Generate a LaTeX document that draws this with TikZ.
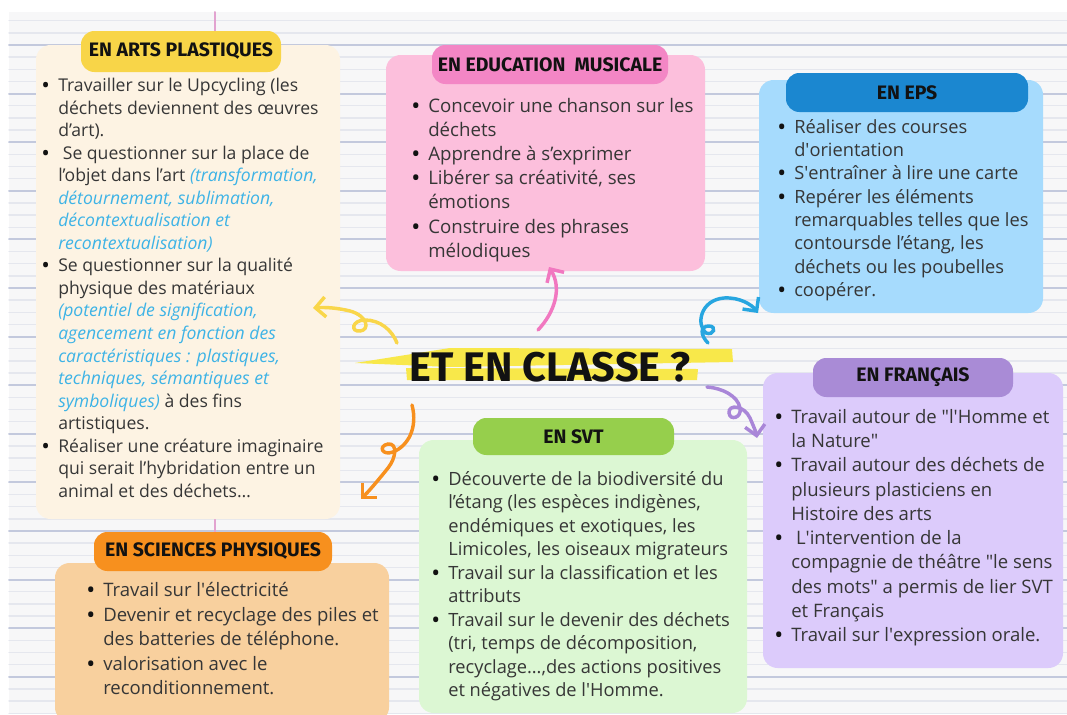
\documentclass[tikz,border=0pt]{standalone}
\usepackage{fontspec}
\setmainfont{Open Sans}
\newfontfamily\titlefont{Fira Sans}
\usetikzlibrary{arrows.meta, positioning}
\usepackage{xcolor}
\definecolor{paper}{HTML}{F7F7F8}
\definecolor{faint}{HTML}{E5E7EE}
\definecolor{rule}{HTML}{C3C9DD}
\definecolor{margin}{HTML}{E2A3D0}
\definecolor{ink}{HTML}{363636}
\definecolor{titleink}{HTML}{121212}
\definecolor{noteblue}{HTML}{3DB3E6}
\definecolor{hl}{HTML}{F8E84A}
\definecolor{artsfill}{HTML}{FDF3E3}
\definecolor{artstab}{HTML}{F8D548}
\definecolor{musfill}{HTML}{FCBFDC}
\definecolor{mustab}{HTML}{F386C5}
\definecolor{epsfill}{HTML}{A6DBFD}
\definecolor{epstab}{HTML}{1B87D0}
\definecolor{frfill}{HTML}{DCCBFB}
\definecolor{frtab}{HTML}{A98BD6}
\definecolor{svtfill}{HTML}{DCF7D3}
\definecolor{svttab}{HTML}{96CF4C}
\definecolor{phyfill}{HTML}{F8D09E}
\definecolor{phytab}{HTML}{F7901E}
\definecolor{ylw}{HTML}{F9D64A}
\definecolor{pnk}{HTML}{F178C0}
\definecolor{blu}{HTML}{27A6E0}
\definecolor{prp}{HTML}{A986D8}
\definecolor{org}{HTML}{F7901E}

\newcommand\bl{\makebox[12pt][l]{\textcolor{titleink}{\bfseries\textbullet}}}
\newcommand\ind{\hspace*{12pt}}
\newcommand\blueit[1]{{\itshape\color{noteblue}#1}}
\newcommand\qq{\textquotedbl}

\begin{document}
\begin{tikzpicture}[
      x = 0.75pt, y = -0.75pt, % one unit = one pixel, y downwards
      > = {Straight Barb[length=7.5pt, width=15pt]}, % arrow head style
      line cap = round,
    ]

    \tikzstyle{box}=[
      rounded corners = 11pt,
      inner sep = 0pt,
      draw = none
    ]
    \tikzstyle{tab}=[
      rounded corners = 10pt,
      inner sep = 0pt,
      text = titleink,
      font = \titlefont\bfseries\fontsize{14.6}{16}\selectfont
    ]
    \tikzstyle{list}=[
      align = left,
      inner sep = 0pt,
      anchor = north west,
      text = ink
    ]
    \tikzstyle{swirl}=[->, line width = 2.6pt]

    \useasboundingbox (0,0) rectangle (1067,714);
    \clip (0,0) rectangle (1067,714);

    % lined paper
    \fill[paper] (9,12) rectangle (1067,714);
    \foreach \k in {0,...,57}
      \draw[faint, line width = 1pt] (9,{20.7+12.15*\k}) -- (1067,{20.7+12.15*\k});
    \foreach \k in {0,...,13}
      \draw[rule, line width = 1.4pt] (9,{45+48.6*\k}) -- (1067,{45+48.6*\k});
    \draw[margin, line width = 1.5pt] (215,12) -- (215,714);

    % boxes
    \node[box, fill = artsfill, minimum width = 228pt, minimum height = 355.5pt] (arts) [at={(188, 282)}] {};
    \node[box, fill = musfill, minimum width = 239.25pt, minimum height = 162pt] (mus) [at={(545.5, 163)}] {};
    \node[box, fill = epsfill, minimum width = 213pt, minimum height = 174.75pt] (eps) [at={(901, 196.5)}] {};
    \node[box, fill = frfill, minimum width = 225pt, minimum height = 221.25pt] (fr) [at={(913, 520.5)}] {};
    \node[box, fill = svtfill, minimum width = 246pt, minimum height = 204.75pt] (svt) [at={(583, 576.5)}] {};
    \node[box, fill = phyfill, minimum width = 250.5pt, minimum height = 119.25pt] (phy) [at={(222, 642.5)}] {};

    % title tabs
    \node[tab, fill = artstab, minimum width = 150pt, minimum height = 30.75pt] (artsT) [at={(181, 51.5)}] {EN ARTS PLASTIQUES};
    \node[tab, fill = mustab, minimum width = 177pt, minimum height = 29.25pt] (musT) [at={(550, 64.5)}] {EN EDUCATION\ \ MUSICALE};
    \node[tab, fill = epstab, minimum width = 181.5pt, minimum height = 29.25pt] (epsT) [at={(907, 92.5)}] {EN EPS};
    \node[tab, fill = frtab, minimum width = 150pt, minimum height = 29.25pt] (frT) [at={(913, 377.5)}] {EN FRANÇAIS};
    \node[tab, fill = svttab, minimum width = 150.75pt, minimum height = 27.75pt] (svtT) [at={(573.5, 436.5)}] {EN SVT};
    \node[tab, fill = phytab, minimum width = 178.5pt, minimum height = 29.25pt] (phyT) [at={(213, 551.5)}] {EN SCIENCES PHYSIQUES};

    % lists
    \node[list, font = \fontsize{13.2}{16.9}\selectfont] (artsL) [at={(42, 78)}] {%
      \bl Travailler sur le Upcycling (les\\
      \ind déchets deviennent des œuvres\\
      \ind d’art).\\
      \bl\ Se questionner sur la place de\\
      \ind l’objet dans l’art \blueit{(transformation,}\\
      \ind\blueit{détournement, sublimation,}\\
      \ind\blueit{décontextualisation et}\\
      \ind\blueit{recontextualisation)}\\
      \bl Se questionner sur la qualité\\
      \ind physique des matériaux\\
      \ind\blueit{(potentiel de signification,}\\
      \ind\blueit{agencement en fonction des}\\
      \ind\blueit{caractéristiques : plastiques,}\\
      \ind\blueit{techniques, sémantiques et}\\
      \ind\blueit{symboliques)} à des fins\\
      \ind artistiques.\\
      \bl Réaliser une créature imaginaire\\
      \ind qui serait l’hybridation entre un\\
      \ind animal et des déchets…};
    \node[list, font = \fontsize{14}{18.1}\selectfont] (musL) [at={(412, 98)}] {%
      \bl Concevoir une chanson sur les\\
      \ind déchets\\
      \bl Apprendre à s’exprimer\\
      \bl Libérer sa créativité, ses\\
      \ind émotions\\
      \bl Construire des phrases\\
      \ind mélodiques};
    \node[list, font = \fontsize{13.7}{17.5}\selectfont] (epsL) [at={(778, 119)}] {%
      \bl Réaliser des courses\\
      \ind d\textquotesingle orientation\\
      \bl S\textquotesingle entraîner à lire une carte\\
      \bl Repérer les éléments\\
      \ind remarquables telles que les\\
      \ind contoursde l’étang, les\\
      \ind déchets ou les poubelles\\
      \bl coopérer.};
    \node[list, font = \fontsize{13.9}{18.2}\selectfont] (frL) [at={(775, 409)}] {%
      \bl Travail autour de \qq l\textquotesingle Homme et\\
      \ind la Nature\qq\\
      \bl Travail autour des déchets de\\
      \ind plusieurs plasticiens en\\
      \ind Histoire des arts\\
      \bl\ L\textquotesingle intervention de la\\
      \ind compagnie de théâtre \qq le sens\\
      \ind des mots\qq\ a permis de lier SVT\\
      \ind et Français\\
      \bl Travail sur l\textquotesingle expression orale.};
    \node[list, font = \fontsize{13.7}{17.6}\selectfont] (svtL) [at={(432, 471)}] {%
      \bl Découverte de la biodiversité du\\
      \ind l’étang (les espèces indigènes,\\
      \ind endémiques et exotiques, les\\
      \ind Limicoles, les oiseaux migrateurs\\
      \bl Travail sur la classification et les\\
      \ind attributs\\
      \bl Travail sur le devenir des déchets\\
      \ind (tri, temps de décomposition,\\
      \ind recyclage…,des actions positives\\
      \ind et négatives de l\textquotesingle Homme.};
    \node[list, font = \fontsize{13.9}{18.4}\selectfont] (phyL) [at={(87, 582)}] {%
      \bl Travail sur l\textquotesingle électricité\\
      \bl Devenir et recyclage des piles et\\
      \ind des batteries de téléphone.\\
      \bl valorisation avec le\\
      \ind reconditionnement.};

    % centre title with its brush stroke
    \fill[hl] (355,363) -- (450,348) -- (732,349) -- (733,362) -- (450,367) -- cycle;
    \fill[hl] (406,368) -- (698,369) -- (697,380) -- (407,380) -- cycle;
    \node[font = \titlefont\bfseries\fontsize{31}{31}\selectfont, text = titleink, inner sep = 0pt] (title) [at={(550, 367)}] {ET EN CLASSE ?};

    % swirly arrows
    \coordinate (yS) at (397,343); \coordinate (yE) at (313,308);
    \coordinate (pS) at (538,330); \coordinate (pE) at (549,267);
    \coordinate (bS) at (708,343); \coordinate (bE) at (758,313);
    \coordinate (vS) at (707,387); \coordinate (vE) at (757,438);
    \coordinate (oS) at (412,405); \coordinate (oE) at (361,499);

    \draw[swirl, ylw] (yS) .. controls (392,330) and (380,320) .. (365,320)
      .. controls (352,320) and (350,332) .. (360,331)
      .. controls (370,330) and (368,316) .. (350,311)
      .. controls (338,308) and (325,307) .. (yE);
    \draw[swirl, pnk] (pS) .. controls (555,312) and (562,288) .. (pE);
    \draw[swirl, blu] (bS) .. controls (700,335) and (700,326) .. (709,326)
      .. controls (717,326) and (714,336) .. (706,333)
      .. controls (696,325) and (700,300) .. (724,298)
      .. controls (740,297) and (752,305) .. (bE);
    \draw[swirl, prp] (vS) .. controls (722,388) and (738,396) .. (740,408)
      .. controls (742,418) and (730,421) .. (729,413)
      .. controls (728,404) and (744,405) .. (750,418)
      .. controls (753,425) and (756,432) .. (vE);
    \draw[swirl, org] (oS) .. controls (418,428) and (408,446) .. (393,452)
      .. controls (382,456) and (378,446) .. (388,444)
      .. controls (398,443) and (396,458) .. (388,468)
      .. controls (380,478) and (370,490) .. (oE);
  \end{tikzpicture}
\end{document}
